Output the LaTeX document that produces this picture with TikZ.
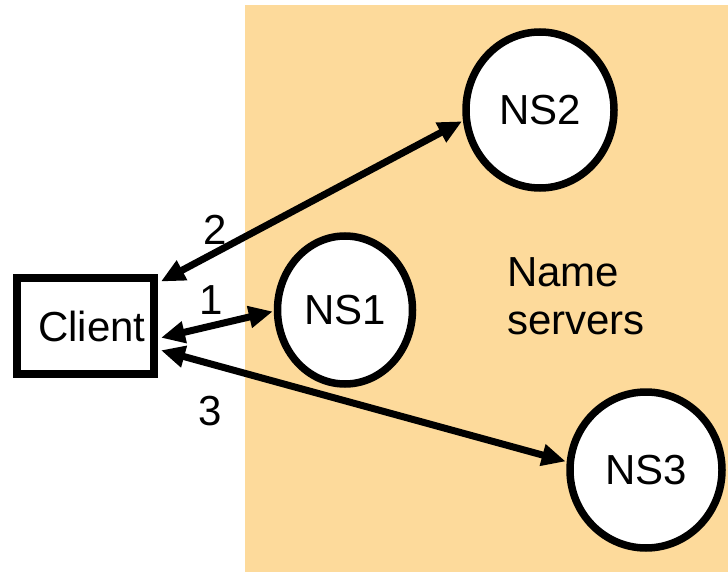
\documentclass[tikz,border=0pt]{standalone}
\usepackage{fontspec}
\setmainfont{Liberation Sans}
\usetikzlibrary{arrows.meta,shapes.geometric,calc}
\definecolor{bgorange}{HTML}{FDDA9B}
\tikzset{
  ns/.style={ellipse,draw=black,fill=white,line width=7.5pt},
  lbl/.style={font=\fontsize{42}{48}\selectfont,inner sep=0pt},
  link/.style={line width=7pt,{Triangle[length=24pt,width=21pt]}-{Triangle[length=24pt,width=21pt]},shorten <=1pt,shorten >=1pt}
}
\begin{document}
\begin{tikzpicture}[x=1pt,y=-1pt]
\useasboundingbox (0,0) rectangle (728,572);
\fill[bgorange] (245,5) rectangle (728,572);
\node[draw,line width=8pt,minimum width=137pt,minimum height=96pt,inner sep=0pt,font=\fontsize{42}{48}\selectfont] (client) at (85.5,326) {\hspace*{13pt}Client};
\node[ns,minimum width=135pt,minimum height=148pt,lbl] (ns1) at (345,310) {NS1};
\node[ns,minimum width=148pt,minimum height=156pt,lbl] (ns2) at (540,110) {NS2};
\node[ns,minimum width=152pt,minimum height=156pt,lbl] (ns3) at (646,470) {NS3};
\coordinate (c2) at ($(client.north east)+(2,8)$);
\coordinate (c1) at ($(client.east)+(2,12)$);
\coordinate (c3) at ($(client.east)+(2,24)$);
\draw[link] (c2) -- (ns2.188);
\draw[link] (c1) -- (ns1.181);
\draw[link] (c3) -- (ns3.174);
\node[lbl] (l2) at (215,230) {2};
\node[lbl] (l1) at (211,300) {1};
\node[lbl] (l3) at (210,411) {3};
\node[lbl,align=left,anchor=west] (names) at (507,296) {Name\\servers};
\end{tikzpicture}
\end{document}
